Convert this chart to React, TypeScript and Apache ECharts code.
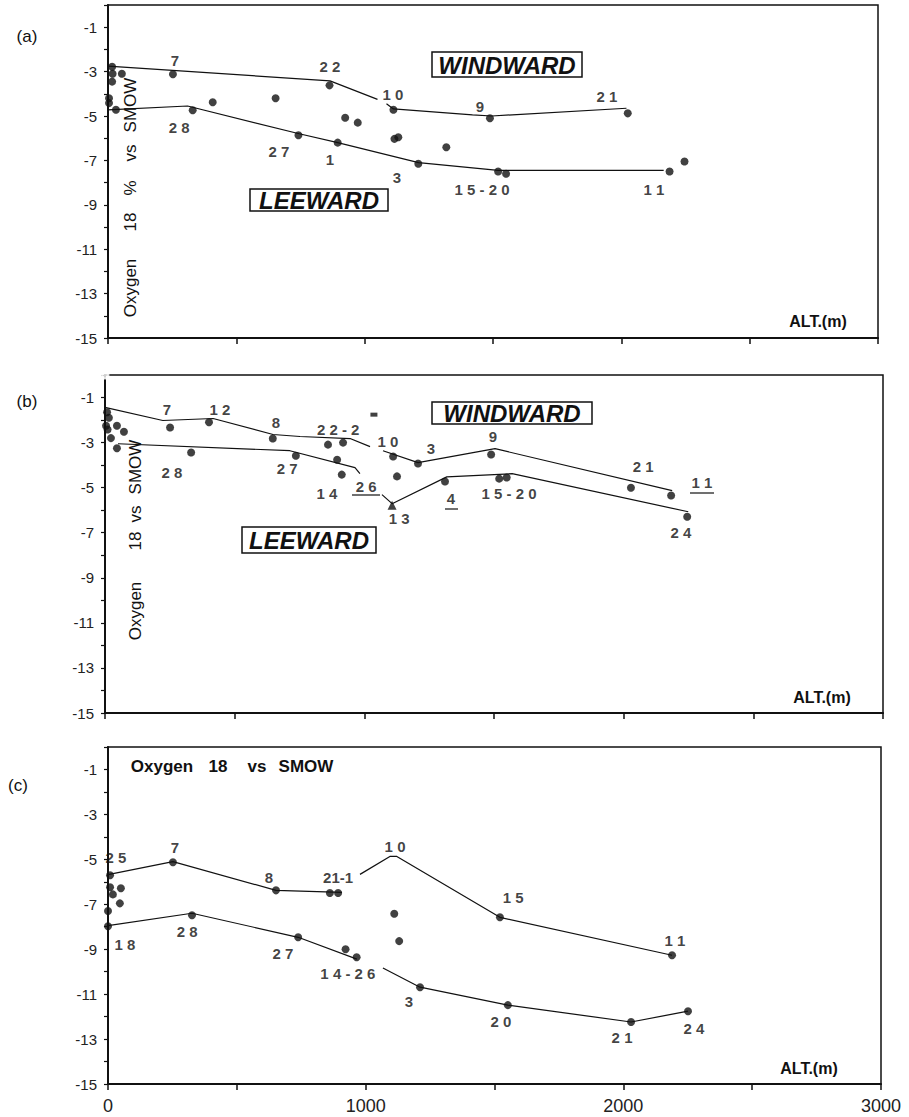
import React, { useEffect, useRef } from "react";
import * as echarts from "echarts";

const FONT = "'Liberation Sans', Arial, Helvetica, sans-serif";

// ---------- axis ticks ----------
const xMin = 0;
const xMax = 3000;
const xStep = 500;
const yMin = -15;
const yMax = 0;
const yStep = 1;

// ---------- Panel (a) ----------
const aPoints: number[][] = [
  [16, -2.78], [18, -3.1], [16, -3.45], [54, -3.1], [4, -4.2], [4, -4.42], [31, -4.72],
  [253, -3.12], [330, -4.74], [408, -4.38], [653, -4.2], [863, -3.62], [742, -5.87],
  [895, -6.2], [924, -5.08], [973, -5.3], [1112, -4.72], [1116, -6.03], [1131, -5.96],
  [1209, -7.15], [1318, -6.41], [1488, -5.1], [1520, -7.5], [1551, -7.6], [2188, -7.5],
  [2246, -7.05], [2025, -4.88],
];
const aWindward1: number[][] = [[0, -2.75], [865, -3.42], [1050, -4.25]];
const aWindward2: number[][] = [[1085, -4.45], [1112, -4.68], [1420, -4.95], [1495, -5.0], [2020, -4.65]];
const aLeeward: number[][] = [[0, -4.72], [310, -4.55], [745, -5.8], [895, -6.2], [1210, -7.1], [1520, -7.45], [2165, -7.45]];
const aLabels: [number, number, string][] = [
  [261, -2.48, "7"], [865, -2.79, "2 2"], [1110, -4.05, "1 0"], [1449, -4.55, "9"],
  [1944, -4.14, "2 1"], [277, -5.54, "2 8"], [666, -6.58, "2 7"], [865, -6.94, "1"],
  [1126, -7.75, "3"], [1457, -8.33, "1 5 - 2 0"], [2127, -8.33, "1 1"],
];

// ---------- Panel (b) ----------
const bPoints: number[][] = [
  [8, -1.65], [15, -1.9], [4, -2.25], [10, -2.42], [23, -2.8], [46, -2.25], [73, -2.52], [46, -3.25],
  [251, -2.33], [401, -2.1], [332, -3.44], [647, -2.82], [736, -3.58], [860, -3.09], [918, -3.0],
  [895, -3.76], [913, -4.42], [1111, -3.62], [1126, -4.5], [1207, -3.93], [1311, -4.73],
  [1489, -3.53], [1520, -4.6], [1549, -4.55], [2028, -5.0], [2183, -5.35], [2245, -6.29],
];
const bOrigin: number[][] = [[0, 0]];
const bTriangle: number[][] = [[1107, -5.78]];
const bSquare: number[][] = [[1037, -1.76]];
const bWindward1: number[][] = [[0, -1.44], [223, -2.02], [417, -1.93], [648, -2.64], [752, -2.73], [945, -2.82], [1022, -3.18]];
const bWindward2: number[][] = [[1072, -3.36], [1207, -3.89], [1504, -3.27], [2187, -5.13]];
const bLeeward1: number[][] = [[50, -3.05], [713, -3.36], [964, -4.11], [983, -4.38]];
const bLeeward2: number[][] = [[1068, -5.31], [1107, -5.71], [1318, -4.52], [1570, -4.38], [2249, -6.07]];
const bLabels: [number, number, string][] = [
  [239, -1.51, "7"], [443, -1.51, "1 2"], [659, -2.09, "8"], [899, -2.44, "2 2 - 2"],
  [1091, -2.97, "1 0"], [1257, -3.24, "3"], [1496, -2.71, "9"], [2075, -4.08, "2 1"],
  [2302, -4.79, "1 1"], [258, -4.31, "2 8"], [702, -4.13, "2 7"], [856, -5.24, "1 4"],
  [1007, -4.93, "2 6"], [1134, -6.35, "1 3"], [1334, -5.46, "4"], [1558, -5.24, "1 5 - 2 0"],
  [2221, -6.97, "2 4"],
];

// ---------- Panel (c) ----------
const cPoints: number[][] = [
  [8, -5.71], [8, -6.24], [50, -6.29], [19, -6.56], [46, -6.96], [0, -7.3], [0, -7.98],
  [252, -5.13], [326, -7.49], [652, -6.38], [861, -6.5], [893, -6.5], [738, -8.47],
  [922, -9.0], [965, -9.36], [1111, -7.42], [1130, -8.64], [1211, -10.69], [1521, -7.58],
  [2189, -9.27], [1552, -11.49], [2030, -12.24], [2251, -11.76],
];
const cUpper1: number[][] = [[0, -5.68], [252, -5.1], [652, -6.38], [908, -6.47]];
const cUpper2: number[][] = [[978, -5.67], [1094, -4.87], [1121, -4.87], [1521, -7.58], [2189, -9.27]];
const cLower1: number[][] = [[0, -7.95], [326, -7.4], [738, -8.47], [966, -9.44]];
const cLower2: number[][] = [[1067, -9.84], [1211, -10.69], [1552, -11.49], [2030, -12.24], [2251, -11.76]];
const cLabels: [number, number, string][] = [
  [31, -4.9, "2 5"], [260, -4.49, "7"], [625, -5.79, "8"], [893, -5.79, "21-1"],
  [1114, -4.41, "1 0"], [1572, -6.68, "1 5"], [2200, -8.63, "1 1"], [66, -8.77, "1 8"],
  [307, -8.23, "2 8"], [679, -9.17, "2 7"], [931, -10.06, "1 4 - 2 6"], [1168, -11.35, "3"],
  [1525, -12.24, "2 0"], [1995, -12.95, "2 1"], [2274, -12.55, "2 4"],
];

function lineSeries(i: number, data: number[][]) {
  return {
    type: "line",
    xAxisIndex: i,
    yAxisIndex: i,
    data,
    symbol: "none",
    silent: true,
    clip: false,
    lineStyle: { color: "#111", width: 1.2 },
    z: 2,
  };
}
function pointSeries(i: number, data: number[][], symbol = "circle", size: any = 8) {
  return {
    type: "scatter",
    xAxisIndex: i,
    yAxisIndex: i,
    data,
    symbol,
    symbolSize: size,
    silent: true,
    clip: false,
    itemStyle: { color: "#111" },
    z: 3,
  };
}
function labelSeries(i: number, labels: [number, number, string][]) {
  return {
    type: "scatter",
    xAxisIndex: i,
    yAxisIndex: i,
    data: labels.map(([x, y, t]) => ({ value: [x, y], name: t })),
    symbolSize: 1,
    silent: true,
    clip: false,
    itemStyle: { color: "rgba(0,0,0,0)" },
    label: {
      show: true,
      position: "inside",
      formatter: "{b}",
      fontSize: 15,
      fontWeight: "bold",
      color: "#111",
      fontFamily: FONT,
    },
    z: 5,
  };
}

function txt(text: string, x: number, y: number, o: any = {}) {
  return {
    type: "text",
    x,
    y,
    rotation: o.rot || 0,
    silent: true,
    z: 20,
    style: {
      text,
      fill: "#111",
      fontSize: o.size || 15,
      fontWeight: o.weight || "normal",
      fontStyle: o.style || "normal",
      fontFamily: FONT,
      align: "center",
      verticalAlign: "middle",
      textAlign: "center",
      textVerticalAlign: "middle",
    },
  };
}
function box(x: number, y: number, w: number, h: number) {
  return {
    type: "rect",
    shape: { x, y, width: w, height: h },
    silent: true,
    z: 18,
    style: { fill: "#fff", stroke: "#111", lineWidth: 1.5 },
  };
}
function uline(x1: number, x2: number, y: number) {
  return {
    type: "line",
    shape: { x1, y1: y, x2, y2: y },
    silent: true,
    z: 20,
    style: { stroke: "#111", lineWidth: 1.2 },
  };
}

function xAxis(i: number, showLabels: boolean) {
  return {
    type: "value",
    gridIndex: i,
    min: xMin,
    max: xMax,
    interval: xStep,
    axisLine: { show: true, onZero: false, lineStyle: { color: "#111", width: 2 } },
    axisTick: { show: true, inside: false, length: 6, lineStyle: { color: "#111", width: 1.5 } },
    splitLine: { show: false },
    axisLabel: {
      show: showLabels,
      formatter: (v: number) => (v % 1000 === 0 ? String(v) : ""),
      fontSize: 18,
      color: "#222",
      fontFamily: FONT,
      margin: 13,
    },
  };
}
function yAxis(i: number) {
  return {
    type: "value",
    gridIndex: i,
    min: yMin,
    max: yMax,
    interval: yStep,
    axisLine: { show: true, onZero: false, lineStyle: { color: "#111", width: 2 } },
    axisTick: { show: true, inside: false, length: 4, lineStyle: { color: "#111", width: 1.2 } },
    splitLine: { show: false },
    axisLabel: {
      formatter: (v: number) => (Math.abs(Math.round(v)) % 2 === 1 ? String(v) : ""),
      fontSize: 15,
      color: "#222",
      fontFamily: FONT,
      margin: 11,
    },
  };
}

const gridStyle = { show: true, borderColor: "#111", borderWidth: 1.5, backgroundColor: "#fff" };

const option: any = {
  animation: false,
  backgroundColor: "#fff",
  textStyle: { fontFamily: FONT },
  grid: [
    { left: 108, top: 5, width: 770, height: 333, ...gridStyle },
    { left: 105, top: 375, width: 778, height: 338, ...gridStyle },
    { left: 108, top: 747, width: 773, height: 337, ...gridStyle },
  ],
  xAxis: [xAxis(0, false), xAxis(1, false), xAxis(2, true)],
  yAxis: [yAxis(0), yAxis(1), yAxis(2)],
  series: [
    lineSeries(0, aWindward1),
    lineSeries(0, aWindward2),
    lineSeries(0, aLeeward),
    pointSeries(0, aPoints),
    labelSeries(0, aLabels),

    lineSeries(1, bWindward1),
    lineSeries(1, bWindward2),
    lineSeries(1, bLeeward1),
    lineSeries(1, bLeeward2),
    pointSeries(1, bPoints),
    pointSeries(1, bTriangle, "triangle", 9),
    pointSeries(1, bSquare, "rect", [7, 4]),
    { ...pointSeries(1, bOrigin, "emptyCircle", 7), itemStyle: { color: "#fff", borderColor: "#111", borderWidth: 2 } },
    labelSeries(1, bLabels),

    lineSeries(2, cUpper1),
    lineSeries(2, cUpper2),
    lineSeries(2, cLower1),
    lineSeries(2, cLower2),
    pointSeries(2, cPoints),
    labelSeries(2, cLabels),
  ],
  graphic: [
    // panel letters
    txt("(a)", 27, 36, { size: 17 }),
    txt("(b)", 27, 401, { size: 17 }),
    txt("(c)", 18, 785, { size: 17 }),

    // panel (a)
    box(432, 52, 150, 25),
    txt("WINDWARD", 507, 65, { size: 24, weight: "bold", style: "italic" }),
    box(250, 189, 138, 22),
    txt("LEEWARD", 319, 200, { size: 24, weight: "bold", style: "italic" }),
    txt("Oxygen", 130, 288, { size: 17, rot: Math.PI / 2 }),
    txt("18", 130, 222, { size: 17, rot: Math.PI / 2 }),
    txt("%", 130, 188, { size: 17, rot: Math.PI / 2 }),
    txt("vs", 130, 153, { size: 17, rot: Math.PI / 2 }),
    txt("SMOW", 130, 105, { size: 17, rot: Math.PI / 2 }),
    txt("ALT.(m)", 818, 321, { size: 16, weight: "bold" }),

    // panel (b)
    box(432, 402, 160, 22),
    txt("WINDWARD", 512, 413, { size: 24, weight: "bold", style: "italic" }),
    box(242, 527, 134, 26),
    txt("LEEWARD", 309, 540, { size: 24, weight: "bold", style: "italic" }),
    txt("Oxygen", 135, 611, { size: 17, rot: Math.PI / 2 }),
    txt("18", 135, 541, { size: 17, rot: Math.PI / 2 }),
    txt("vs", 135, 514, { size: 17, rot: Math.PI / 2 }),
    txt("SMOW", 135, 467, { size: 17, rot: Math.PI / 2 }),
    txt("ALT.(m)", 822, 697, { size: 16, weight: "bold" }),
    uline(352, 380, 495),
    uline(445, 458, 509),
    uline(690, 714, 493),

    // panel (c)
    txt("Oxygen", 162, 766, { size: 17, weight: "bold" }),
    txt("18", 218, 766, { size: 17, weight: "bold" }),
    txt("vs", 257, 766, { size: 17, weight: "bold" }),
    txt("SMOW", 306, 766, { size: 17, weight: "bold" }),
    txt("ALT.(m)", 809, 1068, { size: 16, weight: "bold" }),
  ],
};

export default function App() {
  const ref = useRef<HTMLDivElement>(null);
  useEffect(() => {
    document.body.style.margin = "0";
    const chart = echarts.init(ref.current!, null, { renderer: "svg" });
    chart.setOption(option);
    return () => chart.dispose();
  }, []);
  return <div ref={ref} style={{ width: 909, height: 1117, background: "#fff" }} />;
}
